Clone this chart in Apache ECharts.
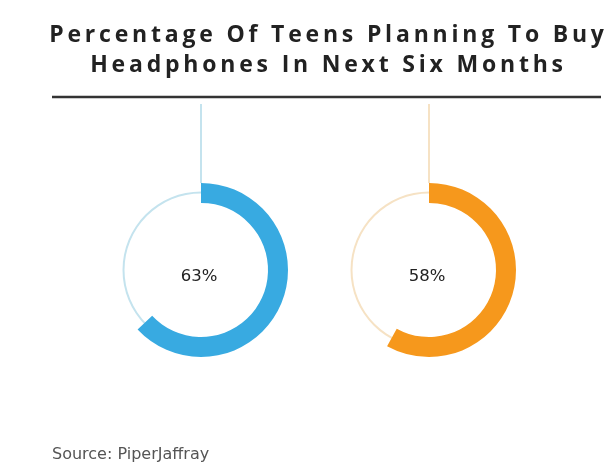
<!DOCTYPE html>
<html>
<head>
<meta charset="utf-8">
<script src="https://cdn.jsdelivr.net/npm/echarts@6/dist/echarts.min.js"></script>
<style>
  html, body { margin: 0; padding: 0; background: #fff; }
  #wrap { position: relative; width: 607px; height: 468px; overflow: hidden; }
  #chart { position: absolute; left: 0; top: 0; width: 607px; height: 468px; }
  #title {
    position: absolute; left: 0; top: 18px; width: 657px; text-align: center;
    font-family: "Open Sans", sans-serif; font-weight: 700; font-size: 23px;
    line-height: 30px; letter-spacing: 3.8px; color: #222; white-space: nowrap;
  }
</style>
</head>
<body>
<div id="wrap">
  <div id="chart"></div>
  <div id="title">Percentage Of Teens Planning To Buy<br>Headphones In Next Six Months</div>
</div>
<script>
// Share of teens planning to buy headphones within six months
const groups = ['Group A', 'Group B'];
const percents = [63, 58];
const ringColors = ['#38aae1', '#f6981c'];
const trackColors = ['#c4e3ee', '#f6e2c4'];
const sourceText = 'Source: PiperJaffray';

// ring layout
const centersX = [201, 429];
const centerY = 270;
const outerR = 87;
const innerR = 67;
const trackR = 77.5;
const stemTop = 104;

const chart = echarts.init(document.getElementById('chart'), null, { renderer: 'canvas' });

const series = [];
const graphics = [];

groups.forEach((g, i) => {
  // thin full-circle track
  series.push({
    type: 'pie',
    silent: true,
    center: [centersX[i], centerY],
    radius: [trackR - 1, trackR + 1],
    label: { show: false },
    labelLine: { show: false },
    data: [{ value: 100, name: g + ' track', itemStyle: { color: trackColors[i] } }]
  });
  // progress arc
  series.push({
    type: 'pie',
    silent: true,
    center: [centersX[i], centerY],
    radius: [innerR, outerR],
    startAngle: 90,
    clockwise: true,
    labelLine: { show: false },
    label: { show: false },
    data: [
      { value: percents[i], name: g, itemStyle: { color: ringColors[i] } },
      { value: 100 - percents[i], name: g + ' rest', itemStyle: { color: 'rgba(0,0,0,0)' } }
    ]
  });
  // value in the middle of the ring
  graphics.push({
    type: 'text',
    silent: true,
    x: centersX[i] - 2, y: centerY + 7,
    style: {
      text: percents[i] + '%',
      fontFamily: '"DejaVu Sans", sans-serif', fontSize: 16.5, fill: '#222',
      align: 'center', verticalAlign: 'middle'
    }
  });
  // stem from the rule down to the top of the ring
  graphics.push({
    type: 'line',
    silent: true,
    shape: { x1: centersX[i], y1: stemTop, x2: centersX[i], y2: centerY - outerR },
    style: { stroke: trackColors[i], lineWidth: 2 }
  });
});

// heading rule
graphics.push({
  type: 'line',
  silent: true,
  shape: { x1: 52, y1: 97, x2: 601, y2: 97 },
  style: { stroke: '#333', lineWidth: 2.5 }
});
// source note
graphics.push({
  type: 'text',
  silent: true,
  x: 52, y: 455,
  style: {
    text: sourceText, fontFamily: '"DejaVu Sans", sans-serif', fontSize: 16, fill: '#555',
    verticalAlign: 'middle'
  }
});

chart.setOption({
  animation: false,
  backgroundColor: '#fff',
  series: series,
  graphic: graphics
});
</script>
</body>
</html>
